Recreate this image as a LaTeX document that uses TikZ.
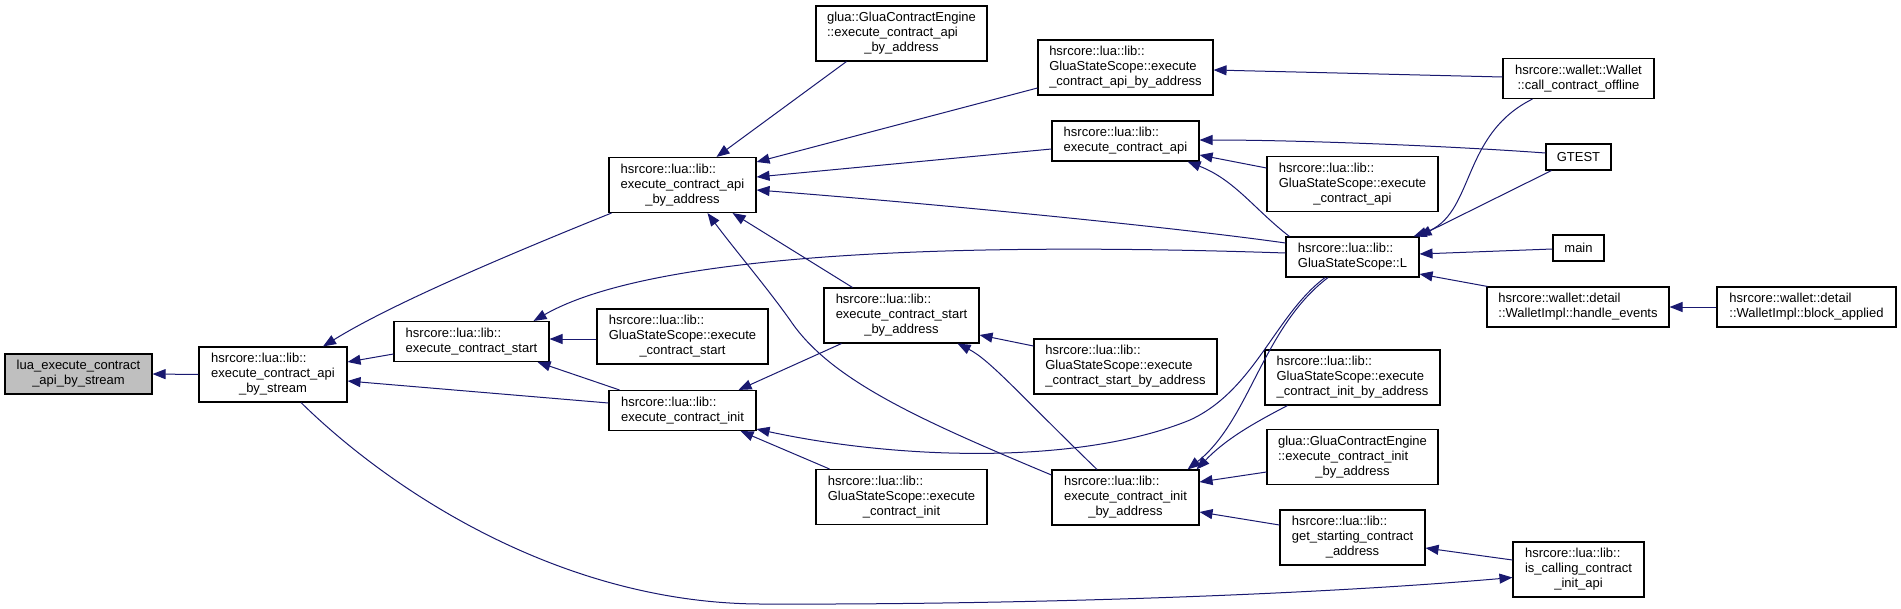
\documentclass[tikz,border=0pt]{standalone}
\usepackage{fontspec}
\setmainfont{Liberation Sans}
\usetikzlibrary{arrows.meta}
\definecolor{edgec}{HTML}{191970}
\definecolor{nodegray}{HTML}{BFBFBF}
\newcommand{\nlab}[2]{\begin{tabular}{@{}l@{}}#1\\\multicolumn{1}{@{}c@{}}{#2}\end{tabular}}
\begin{document}
\begin{tikzpicture}[x=1pt,y=-1pt,
  box/.style={draw=black, line width=1.1pt, fill=white, inner sep=0pt, font=\fontsize{13}{15}\selectfont, anchor=center},
  two/.style={box, minimum height=40pt},
  three/.style={box, minimum height=55pt},
  one/.style={box, minimum height=26pt},
  edge/.style={draw=edgec, line width=1pt, -{Triangle[length=13pt,width=10pt]}},
]
\useasboundingbox (0,0) rectangle (1901,608);
\fill[white] (0,0) rectangle (1901,608);

% nodes
\node[two, minimum width=147pt, fill=nodegray] (lua) at (78.5,374) {\nlab{lua\_execute\_contract}{\_api\_by\_stream}};
\node[three, minimum width=148pt] (stream) at (273,374.5) {\nlab{hsrcore::lua::lib::\\execute\_contract\_api}{\_by\_stream}};
\node[two, minimum width=155pt] (start) at (471.5,341.5) {\nlab{hsrcore::lua::lib::}{execute\_contract\_start}};
\node[three, minimum width=171pt] (gssstart) at (682.5,336.5) {\nlab{hsrcore::lua::lib::\\GluaStateScope::execute}{\_contract\_start}};
\node[two, minimum width=147pt] (init) at (682.5,410.5) {\nlab{hsrcore::lua::lib::}{execute\_contract\_init}};
\node[three, minimum width=147pt] (apiaddr) at (682.5,185) {\nlab{hsrcore::lua::lib::\\execute\_contract\_api}{\_by\_address}};
\node[three, minimum width=171pt] (engapi) at (901.5,33.5) {\nlab{glua::GluaContractEngine\\::execute\_contract\_api}{\_by\_address}};
\node[three, minimum width=175pt] (gssapiaddr) at (1125.5,67.5) {\nlab{hsrcore::lua::lib::\\GluaStateScope::execute}{\_contract\_api\_by\_address}};
\node[two, minimum width=147pt] (api) at (1125.5,141) {\nlab{hsrcore::lua::lib::}{execute\_contract\_api}};
\node[three, minimum width=171pt] (gssapi) at (1352.5,184) {\nlab{hsrcore::lua::lib::\\GluaStateScope::execute}{\_contract\_api}};
\node[two, minimum width=133pt] (L) at (1352.5,257) {\nlab{hsrcore::lua::lib::}{GluaStateScope::L}};
\node[two, minimum width=151pt] (offline) at (1578.5,78.5) {\nlab{hsrcore::wallet::Wallet}{::call\_contract\_offline}};
\node[one, minimum width=65pt] (gtest) at (1578.5,157) {GTEST};
\node[one, minimum width=51pt] (main) at (1578.5,248) {main};
\node[two, minimum width=182pt] (handle) at (1578,307) {\nlab{hsrcore::wallet::detail}{::WalletImpl::handle\_events}};
\node[two, minimum width=179pt] (block) at (1806.5,307) {\nlab{hsrcore::wallet::detail}{::WalletImpl::block\_applied}};
\node[three, minimum width=155pt] (startaddr) at (901.5,315.5) {\nlab{hsrcore::lua::lib::\\execute\_contract\_start}{\_by\_address}};
\node[three, minimum width=183pt] (gssstartaddr) at (1125.5,366.5) {\nlab{hsrcore::lua::lib::\\GluaStateScope::execute}{\_contract\_start\_by\_address}};
\node[three, minimum width=171pt] (gssinit) at (901.5,497) {\nlab{hsrcore::lua::lib::\\GluaStateScope::execute}{\_contract\_init}};
\node[three, minimum width=147pt] (initaddr) at (1125.5,497.5) {\nlab{hsrcore::lua::lib::\\execute\_contract\_init}{\_by\_address}};
\node[three, minimum width=175pt] (gssinitaddr) at (1352.5,377.5) {\nlab{hsrcore::lua::lib::\\GluaStateScope::execute}{\_contract\_init\_by\_address}};
\node[three, minimum width=171pt] (enginit) at (1352.5,457) {\nlab{glua::GluaContractEngine\\::execute\_contract\_init}{\_by\_address}};
\node[three, minimum width=145pt] (getstart) at (1352.5,537.5) {\nlab{hsrcore::lua::lib::\\get\_starting\_contract}{\_address}};
\node[three, minimum width=131pt] (iscalling) at (1578.5,569.5) {\nlab{hsrcore::lua::lib::\\is\_calling\_contract}{\_init\_api}};

% edges
\draw[edge] (stream.west) -- (lua.east);
\draw[edge] ([shift={(0,12.5)}]start.west) -- ([shift={(0,-12.5)}]stream.east);
\draw[edge] ([shift={(0,-7.5)}]init.west) -- ([shift={(0,6.5)}]stream.east);
\draw[edge] ([shift={(3,0)}]apiaddr.south west) .. controls (500,258) and (390,305) .. ([shift={(50,0)}]stream.north);
\draw[edge] ([shift={(28,0)}]stream.south) .. controls (390,490) and (560,603) .. (760,604) .. controls (1000,605) and (1300,596) .. ([shift={(0,8)}]iscalling.west);
\draw[edge] ([shift={(0,2.5)}]gssstart.west) -- ([shift={(0,-2.5)}]start.east);
\draw[edge] ([shift={(11,0)}]init.north west) -- ([shift={(-12,0)}]start.south east);
\draw[edge] ([shift={(0,-4)}]L.west) .. controls (900,240) and (640,260) .. ([shift={(-16,0)}]start.north east);
\draw[edge] ([shift={(4,0)}]L.north west) .. controls (1255,210) and (1235,180) .. ([shift={(-12,0)}]api.south east);
\draw[edge] ([shift={(0,-16)}]gssapi.west) -- ([shift={(0,14)}]api.east);
\draw[edge] ([shift={(0,-4)}]gtest.west) .. controls (1450,146) and (1300,140) .. ([shift={(0,-1)}]api.east);
\draw[edge] ([shift={(0,-1.5)}]offline.west) -- ([shift={(0,2.5)}]gssapiaddr.east);
\draw[edge] ([shift={(30,0)}]offline.south west) .. controls (1460,135) and (1475,215) .. ([shift={(-6,0)}]L.north east);
\draw[edge] ([shift={(6,0)}]gtest.south west) -- ([shift={(-1,0)}]L.north east);
\draw[edge] ([shift={(0,1)}]main.west) -- ([shift={(0,-3)}]L.east);
\draw[edge] ([shift={(1,0)}]handle.north west) -- ([shift={(0,17)}]L.east);
\draw[edge] (block.west) -- (handle.east);
\draw[edge] ([shift={(0,20.5)}]gssapiaddr.west) -- ([shift={(0,-23)}]apiaddr.east);
\draw[edge] ([shift={(31,0)}]engapi.south west) -- ([shift={(34,0)}]apiaddr.north);
\draw[edge] ([shift={(0,8)}]api.west) -- ([shift={(0,-8)}]apiaddr.east);
\draw[edge] ([shift={(0,-14)}]L.west) .. controls (1180,228) and (950,205) .. ([shift={(0,5)}]apiaddr.east);
\draw[edge] ([shift={(29,0)}]startaddr.north west) -- ([shift={(-24,0)}]apiaddr.south east);
\draw[edge] ([shift={(0,-22.5)}]initaddr.west) .. controls (920,420) and (830,380) .. (790,320) .. controls (765,285) and (735,250) .. ([shift={(25,0)}]apiaddr.south);
\draw[edge] ([shift={(-28.5,0)}]initaddr.north) .. controls (1020,395) and (990,360) .. ([shift={(-22,0)}]startaddr.south east);
\draw[edge] ([shift={(0,-20.5)}]gssstartaddr.west) -- ([shift={(0,19.5)}]startaddr.east);
\draw[edge] ([shift={(18,0)}]startaddr.south west) -- ([shift={(-18,0)}]init.north east);
\draw[edge] ([shift={(-27.5,0)}]L.south) .. controls (1275,315) and (1255,390) .. (1190,420) .. controls (1080,465) and (900,460) .. ([shift={(0,-2)}]init.south east);
\draw[edge] ([shift={(14,0)}]gssinit.north west) -- ([shift={(-16,0)}]init.south east);
\draw[edge] ([shift={(-24.5,0)}]L.south) .. controls (1262,328) and (1250,420) .. ([shift={(-12,0)}]initaddr.north east);
\draw[edge] ([shift={(23,0)}]gssinitaddr.south west) .. controls (1250,425) and (1225,440) .. ([shift={(-3,0)}]initaddr.north east);
\draw[edge] ([shift={(0,15)}]enginit.west) -- ([shift={(0,-15.5)}]initaddr.east);
\draw[edge] ([shift={(0,-12.5)}]getstart.west) -- ([shift={(0,14.5)}]initaddr.east);
\draw[edge] ([shift={(0,-9.5)}]iscalling.west) -- ([shift={(0,10.5)}]getstart.east);
\end{tikzpicture}
\end{document}
